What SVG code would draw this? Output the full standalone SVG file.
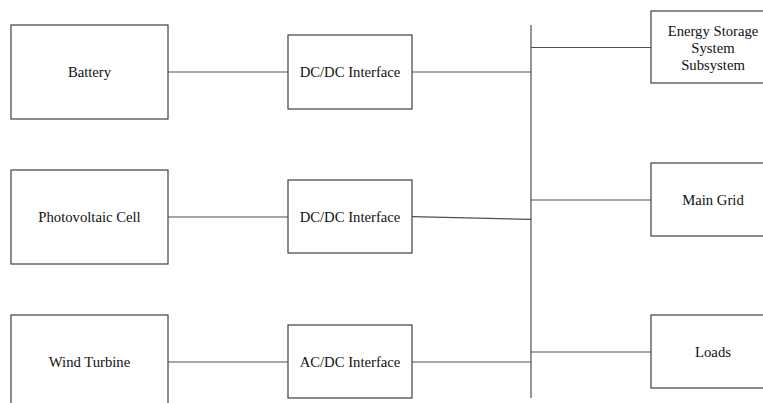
<svg xmlns="http://www.w3.org/2000/svg" width="763" height="403" viewBox="0 0 763 403">
<style>
.box{fill:#fff;stroke:#404040;stroke-width:1.2}
.ln{fill:none;stroke:#505050;stroke-width:1.2}
.t{font-family:'Liberation Serif','Times New Roman',Times,'DejaVu Serif',serif;font-size:14.7px;fill:#111;text-anchor:middle}
</style>
<rect width="763" height="403" fill="#fff"/>
<g id="connectors">
<line class="ln" x1="531" y1="25" x2="531" y2="398"/>
<line class="ln" x1="168" y1="72" x2="288" y2="72"/>
<line class="ln" x1="412" y1="72" x2="531" y2="72"/>
<line class="ln" x1="168" y1="217" x2="288" y2="217"/>
<line class="ln" x1="412" y1="216.7" x2="531" y2="219.3"/>
<line class="ln" x1="168" y1="362" x2="288" y2="362"/>
<line class="ln" x1="412" y1="362" x2="531" y2="362"/>
<line class="ln" x1="531" y1="47.5" x2="651" y2="47.5"/>
<line class="ln" x1="531" y1="200" x2="651" y2="200"/>
<line class="ln" x1="531" y1="352" x2="651" y2="352"/>
</g>
<g id="battery"><rect class="box" x="11" y="25" width="157" height="94"/><text class="t" font-family="Liberation Serif, serif" x="89.5" y="77">Battery</text></g>
<g id="pv"><rect class="box" x="11" y="170" width="157" height="94"/><text class="t" x="89.5" y="222">Photovoltaic Cell</text></g>
<g id="wind"><rect class="box" x="11" y="315" width="157" height="94"/><text class="t" x="89.5" y="367">Wind Turbine</text></g>
<g id="dcdc1"><rect class="box" x="288" y="35" width="124" height="74"/><text class="t" x="350" y="77">DC/DC Interface</text></g>
<g id="dcdc2"><rect class="box" x="288" y="180" width="124" height="73"/><text class="t" x="350" y="222">DC/DC Interface</text></g>
<g id="acdc"><rect class="box" x="288" y="325" width="124" height="73"/><text class="t" x="350" y="367">AC/DC Interface</text></g>
<g id="ess"><rect class="box" x="651" y="11" width="124" height="72"/><text class="t" x="713" y="36">Energy Storage</text><text class="t" x="713" y="53">System</text><text class="t" x="713" y="70">Subsystem</text></g>
<g id="grid"><rect class="box" x="651" y="163" width="124" height="73"/><text class="t" x="713" y="205">Main Grid</text></g>
<g id="loads"><rect class="box" x="651" y="315" width="124" height="73"/><text class="t" x="713" y="357">Loads</text></g>
</svg>
